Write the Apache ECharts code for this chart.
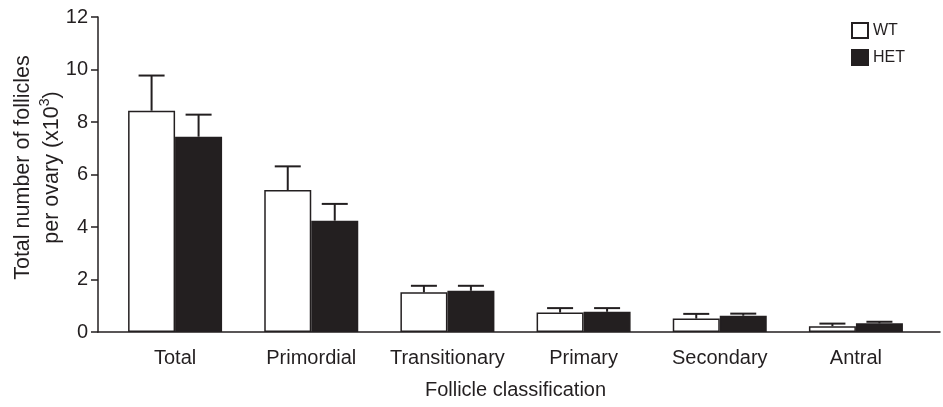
<!DOCTYPE html>
<html>
<head>
<meta charset="utf-8">
<script src="https://cdn.jsdelivr.net/npm/echarts@6/dist/echarts.min.js"></script>
<style>
html,body{margin:0;padding:0;background:#fff;}
#chart{width:943px;height:407px;}
</style>
</head>
<body>
<div id="chart"></div>
<script>
var categories = ['Total', 'Primordial', 'Transitionary', 'Primary', 'Secondary', 'Antral'];
var wtMean = [8.43, 5.41, 1.51, 0.74, 0.51, 0.22];
var wtErr  = [1.34, 0.90, 0.25, 0.17, 0.18, 0.10];
var hetMean = [7.44, 4.24, 1.57, 0.77, 0.62, 0.33];
var hetErr  = [0.84, 0.64, 0.19, 0.14, 0.08, 0.06];
var yTicks = [0, 2, 4, 6, 8, 10, 12];

var INK = '#231f20';
var FONT = '"Liberation Sans", Arial, sans-serif';
var BAR_W = 47;

function errData(mean, err) {
  return mean.map(function (m, i) { return [i, m, m + err[i]]; });
}

function makeErr(side) {
  return function (params, api) {
    var i = api.value(0);
    var base = api.coord([i, api.value(1)]);
    var top = api.coord([i, api.value(2)]);
    var x = base[0] + side * BAR_W / 2;
    var cap = 13;
    return {
      type: 'group',
      children: [
        { type: 'line', shape: { x1: x, y1: base[1], x2: x, y2: top[1] }, style: { stroke: INK, lineWidth: 2 } },
        { type: 'line', shape: { x1: x - cap, y1: top[1], x2: x + cap, y2: top[1] }, style: { stroke: INK, lineWidth: 2 } }
      ]
    };
  };
}

var chart = echarts.init(document.getElementById('chart'), null, { renderer: 'canvas' });
chart.setOption({
  animation: false,
  backgroundColor: '#fff',
  textStyle: { fontFamily: FONT, color: INK },
  legend: {
    orient: 'vertical',
    left: 846,
    top: 17,
    itemWidth: 16,
    itemHeight: 15,
    itemGap: 10,
    icon: 'rect',
    textStyle: { fontFamily: FONT, fontSize: 16, color: INK },
    data: ['WT', 'HET']
  },
  grid: [
    { left: 107, right: 19, top: 17, bottom: 75, outerBoundsMode: 'none', containLabel: false },
    { left: 98, right: 3, top: 17, bottom: 75, outerBoundsMode: 'none', containLabel: false }
  ],
  xAxis: [
    {
      gridIndex: 0,
      type: 'category',
      data: categories,
      axisLine: { show: false },
      axisTick: { show: false },
      axisLabel: { fontFamily: FONT, fontSize: 20, color: INK, margin: 16, interval: 0 },
      name: 'Follicle classification',
      nameLocation: 'middle',
      nameGap: 48,
      nameMoveOverlap: false,
      nameTextStyle: { fontFamily: FONT, fontSize: 20, color: INK }
    },
    {
      gridIndex: 1,
      type: 'value',
      min: 0, max: 1,
      axisLine: { show: true, onZero: false, lineStyle: { color: INK, width: 1.5 } },
      axisTick: { show: false },
      axisLabel: { show: false },
      splitLine: { show: false }
    }
  ],
  yAxis: [
    {
      gridIndex: 0,
      type: 'value',
      min: 0, max: 12, interval: 2,
      show: false
    },
    {
      gridIndex: 1,
      type: 'value',
      position: 'left',
      min: yTicks[0], max: yTicks[yTicks.length - 1], interval: 2,
      axisLine: { show: true, onZero: false, lineStyle: { color: INK, width: 1.5 } },
      axisTick: { show: true, inside: false, length: 7, lineStyle: { color: INK, width: 1.5 } },
      axisLabel: { fontFamily: FONT, fontSize: 20, color: INK, margin: 10 },
      splitLine: { show: false },
      name: 'Total number of follicles\nper ovary (x10{sup|3})',
      nameLocation: 'middle',
      nameGap: 31,
      nameRotate: 90,
      nameMoveOverlap: false,
      nameTextStyle: {
        fontFamily: FONT, fontSize: 21.5, color: INK, lineHeight: 29, align: 'center',
        padding: [0, 0, 0, 14],
        rich: { sup: { fontFamily: FONT, fontSize: 14, color: INK, verticalAlign: 'top', padding: [0, 0, 9, 0] } }
      }
    }
  ],
  series: [
    {
      name: 'WT',
      type: 'bar',
      xAxisIndex: 0, yAxisIndex: 0,
      data: wtMean,
      barWidth: BAR_W,
      barGap: '0%',
      itemStyle: { color: '#ffffff', borderColor: INK, borderWidth: 1.5 },
      z: 2
    },
    {
      name: 'HET',
      type: 'bar',
      xAxisIndex: 0, yAxisIndex: 0,
      data: hetMean,
      barWidth: BAR_W,
      barGap: '0%',
      itemStyle: { color: INK, borderColor: INK, borderWidth: 1.5 },
      z: 2
    },
    {
      type: 'custom',
      xAxisIndex: 0, yAxisIndex: 0,
      renderItem: makeErr(-1),
      data: errData(wtMean, wtErr),
      encode: { x: 0, y: [1, 2] },
      z: 3
    },
    {
      type: 'custom',
      xAxisIndex: 0, yAxisIndex: 0,
      renderItem: makeErr(1),
      data: errData(hetMean, hetErr),
      encode: { x: 0, y: [1, 2] },
      z: 3
    }
  ]
});
</script>
</body>
</html>
